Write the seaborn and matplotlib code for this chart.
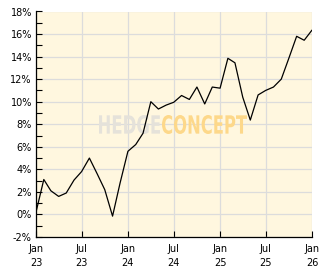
import matplotlib
matplotlib.use("Agg")
import matplotlib.pyplot as plt
import matplotlib.dates as mdates
from matplotlib.textpath import TextPath
from matplotlib.patches import PathPatch
from matplotlib.font_manager import FontProperties
from matplotlib.transforms import Affine2D, IdentityTransform
import seaborn as sns
import pandas as pd
import numpy as np

# monthly performance (%) Jan 2023 .. Jan 2026
values = [0.2, 3.1, 2.1, 1.6, 1.9, 3.05, 3.8, 5.0, 3.6, 2.2, -0.15, 2.8,
          5.6, 6.2, 7.2, 10.0, 9.35, 9.7, 9.95, 10.55, 10.2, 11.3, 9.8, 11.3,
          11.2, 13.85, 13.45, 10.4, 8.37, 10.6, 11.0, 11.3, 12.0, 13.85, 15.8, 15.45, 16.35]
dates = pd.date_range("2023-01-01", periods=len(values), freq="MS")
tick_dates = pd.to_datetime(["2023-01-01", "2023-07-01", "2024-01-01", "2024-07-01",
                             "2025-01-01", "2025-07-01", "2026-01-01"])
tick_labels = ["Jan\n23", "Jul\n23", "Jan\n24", "Jul\n24", "Jan\n25", "Jul\n25", "Jan\n26"]
y_ticks = list(range(-2, 19, 2))
y_labels = [f"{v}%" for v in y_ticks]

df = pd.DataFrame({"date": dates, "value": values})

sns.set_theme(style="white")
plt.rcParams["font.family"] = ["DejaVu Sans"]

W, H = 332, 269
fig = plt.figure(figsize=(W / 100, H / 100), dpi=100)
fig.patch.set_facecolor("white")
ax = fig.add_axes([36 / W, 32 / H, (312 - 36) / W, (257.5 - 32) / H])
ax.set_facecolor("#FFF7DF")

sns.lineplot(data=df, x="date", y="value", ax=ax, color="black", linewidth=0.9, zorder=5)

ax.set_xlim(tick_dates[0], tick_dates[-1])
ax.set_ylim(-2, 18)
ax.set_xticks(tick_dates)
ax.set_xticklabels(tick_labels, fontsize=7, color="black", linespacing=1.45)
ax.set_yticks(y_ticks)
ax.set_yticklabels(y_labels, fontsize=7, color="black")
ax.set_yticks(list(range(-1, 18, 2)), minor=True)
ax.tick_params(axis="both", which="both", direction="in", length=4, width=0.8,
               color="black", pad=3)
ax.tick_params(axis="x", pad=5)
ax.tick_params(axis="y", which="both", left=True)
ax.tick_params(axis="x", which="major", bottom=True)
ax.grid(True, which="major", color="#DCDCDC", linewidth=0.9, zorder=1)
ax.set_xlabel("")
ax.set_ylabel("")
for s in ["top", "right"]:
    ax.spines[s].set_visible(False)
for s in ["left", "bottom"]:
    ax.spines[s].set_color("black")
    ax.spines[s].set_linewidth(0.9)
    ax.spines[s].set_zorder(6)

# watermark, fitted into pixel boxes
fp = FontProperties(family="DejaVu Sans", weight="bold")
def watermark(txt, x0, x1, ytop, ybot, color):
    tp = TextPath((0, 0), txt, size=10, prop=fp)
    ext = tp.get_extents()
    sx = (x1 - x0) / ext.width
    sy = (ybot - ytop) / ext.height
    tr = Affine2D().translate(-ext.x0, -ext.y0).scale(sx, sy).translate(x0, H - ybot)
    patch = PathPatch(tr.transform_path(tp), facecolor=color, edgecolor="none",
                      transform=IdentityTransform(), zorder=3)
    ax.add_artist(patch)
watermark("HEDGE", 99, 160, 115, 134, "#E5E2DA")
watermark("CONCEPT", 162, 247, 115, 134, "#FDD88A")

fig.savefig("out.png", dpi=100, facecolor="white")
